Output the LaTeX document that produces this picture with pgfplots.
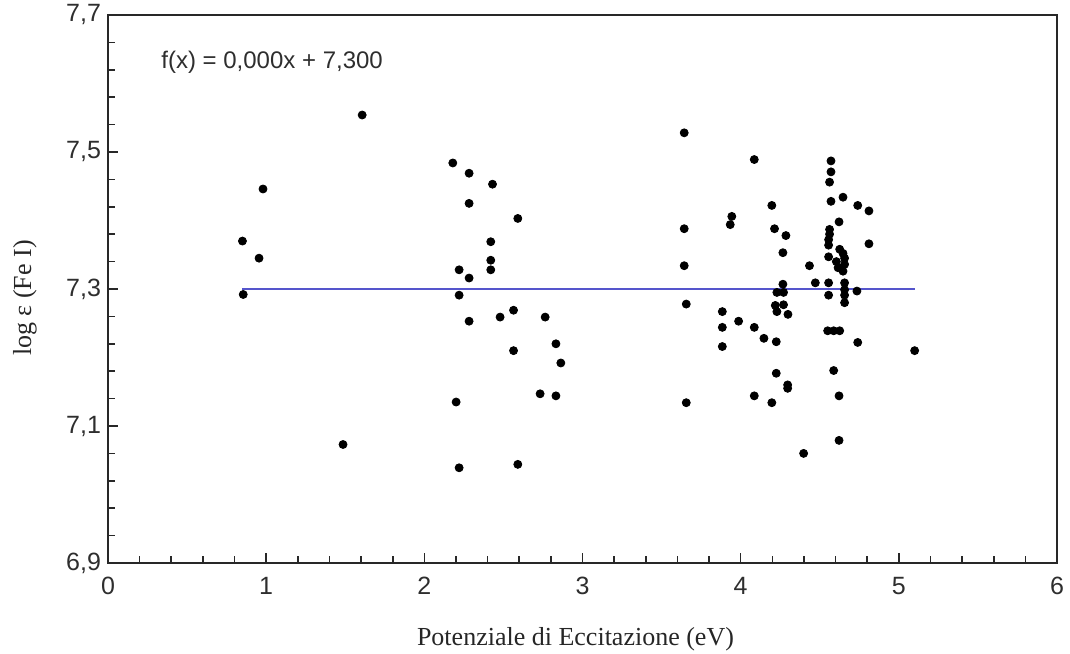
\documentclass[border=0pt]{standalone}
\usepackage{fontspec}
\setmainfont{Liberation Sans}
\newfontfamily\seriffont{Liberation Serif}
\usepackage{pgfplots}
\pgfplotsset{compat=1.18}
\definecolor{fitblue}{RGB}{85,85,204}
\definecolor{axgray}{RGB}{40,40,40}
\begin{document}
\begin{tikzpicture}
\useasboundingbox (0,0) rectangle (535pt,326.5pt);
\begin{axis}[
 at={(54pt,45pt)}, anchor=south west,
 scale only axis, width=474.5pt, height=274pt,
 xmin=0, xmax=6, ymin=6.9, ymax=7.7,
 xtick={0,1,2,3,4,5,6}, ytick={6.9,7.1,7.3,7.5,7.7},
 minor x tick num=4, minor y tick num=4,
 tick pos=left, tick align=inside,
 major tick length=5pt, minor tick length=3.5pt,
 axis line style={axgray, line width=0.9pt},
 every tick/.style={axgray, line width=0.8pt},
 /pgf/number format/assume math mode=true,
 yticklabel style={/pgf/number format/.cd, fixed, fixed zerofill, precision=1, use comma},
 tick label style={font=\fontsize{12.5}{14}\selectfont, text=black!82},
 xticklabel style={yshift=-3.5pt},
 xlabel={\seriffont Potenziale di Eccitazione (eV)},
 ylabel={\seriffont log ε (Fe I)},
 label style={font=\fontsize{13}{15}\selectfont, text=black!85},
 xlabel style={at={(axis description cs:0.4926,-0.1396)}, anchor=center},
 ylabel style={at={(axis description cs:-0.0875,0.4836)}, anchor=center},
]
\addplot[fitblue, line width=0.9pt] coordinates {(0.85,7.3) (5.10,7.3)};
\addplot[only marks, mark=*, mark size=2pt, black] table {
x y
0.855 7.292
0.850 7.370
0.955 7.345
0.980 7.446
1.486 7.073
1.607 7.554
};
\addplot[only marks, mark=*, mark size=2pt, black] table {
x y
2.180 7.484
2.283 7.469
2.431 7.453
2.283 7.425
2.591 7.403
2.420 7.369
2.420 7.342
2.220 7.328
2.420 7.328
2.283 7.316
2.220 7.291
2.564 7.269
2.479 7.259
2.764 7.259
2.283 7.253
2.832 7.220
2.564 7.210
2.863 7.192
2.732 7.147
2.832 7.144
2.201 7.135
2.220 7.039
2.591 7.044
};
\addplot[only marks, mark=*, mark size=2pt, black] table {
x y
3.643 7.528
4.086 7.489
4.197 7.422
3.944 7.406
3.934 7.394
3.643 7.388
4.214 7.388
4.286 7.378
4.267 7.353
3.643 7.334
4.267 7.307
4.229 7.295
4.271 7.295
3.656 7.278
4.219 7.276
4.271 7.277
4.229 7.267
4.299 7.263
3.884 7.267
3.987 7.253
3.884 7.244
4.086 7.244
4.147 7.228
4.225 7.223
3.884 7.216
4.225 7.177
4.297 7.160
4.297 7.155
4.086 7.144
4.197 7.134
3.656 7.134
4.398 7.060
};
\addplot[only marks, mark=*, mark size=2pt, black] table {
x y
4.435 7.334
4.472 7.309
4.571 7.487
4.571 7.471
4.562 7.456
4.571 7.428
4.647 7.434
4.740 7.422
4.811 7.414
4.622 7.398
4.562 7.387
4.562 7.380
4.556 7.372
4.556 7.364
4.811 7.366
4.626 7.358
4.647 7.352
4.556 7.347
4.657 7.345
4.605 7.340
4.657 7.336
4.616 7.331
4.647 7.326
4.556 7.309
4.657 7.309
4.735 7.297
4.657 7.299
4.556 7.291
4.657 7.291
4.657 7.280
4.550 7.239
4.588 7.239
4.626 7.239
4.740 7.222
5.100 7.210
4.588 7.181
4.622 7.144
4.622 7.079
};
\node[anchor=west, font=\fontsize{12}{14}\selectfont, text=black!82, inner sep=0pt] at (axis cs:0.335,7.631) {f(x) = 0,000x + 7,300};
\end{axis}
\end{tikzpicture}
\end{document}
